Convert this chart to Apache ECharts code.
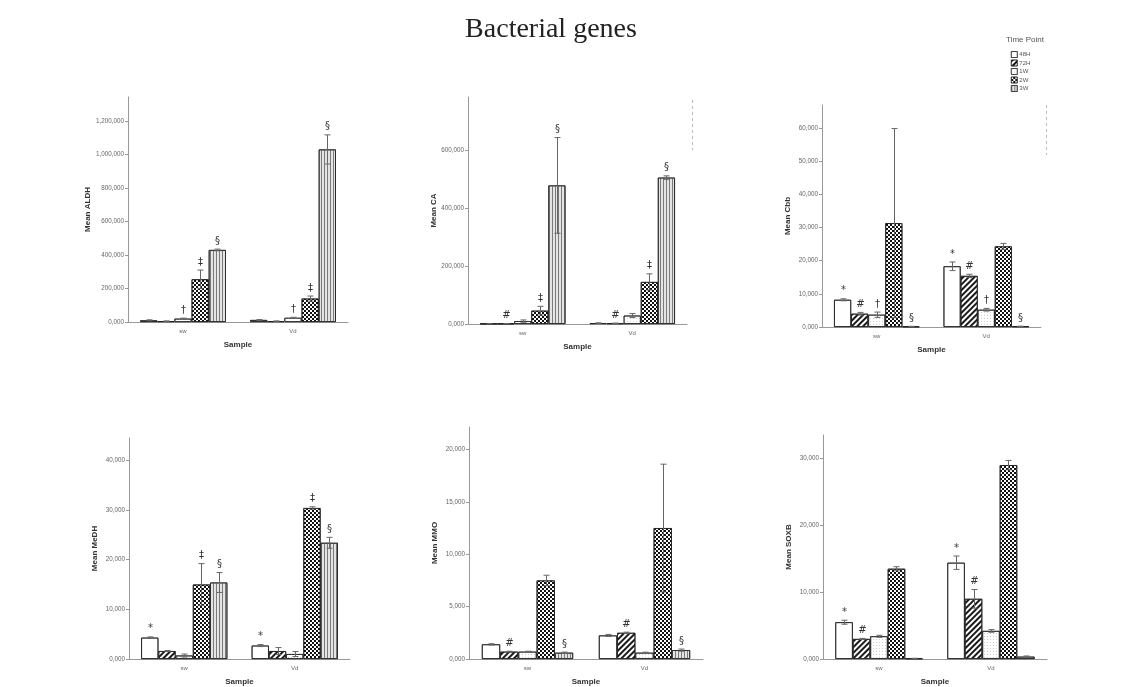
<!DOCTYPE html>
<html><head><meta charset="utf-8">
<script src="https://cdn.jsdelivr.net/npm/echarts@6/dist/echarts.min.js"></script>
<style>html,body{margin:0;padding:0;background:#fff}#c{width:1127px;height:687px}</style>
</head><body><div id="c"></div>
<script>
// ---------- data ----------
const timePoints = ['48H', '72H', '1W', '2W', '3W'];
const samples = ['sw', 'Vd'];

const aldhSw = [10000, 5000, 20000, 255000, 430000];
const aldhVd = [12000, 5000, 25000, 140000, 1030000];
const aldhSwErr = [3000, 1500, 3000, 55000, 5000];
const aldhVdErr = [2500, 1500, 3000, 15000, 87000];
const aldhSwMark = ['', '', '†', '‡', '§'];
const aldhVdMark = ['', '', '†', '‡', '§'];
const aldhTicks = [0, 200000, 400000, 600000, 800000, 1000000, 1200000];

const caSw = [1000, 1500, 10000, 46000, 478000];
const caVd = [3000, 2500, 29000, 145000, 505000];
const caSwErr = [300, 300, 4000, 15000, 165000];
const caVdErr = [1000, 800, 7000, 28000, 6000];
const caSwMark = ['', '#', '', '‡', '§'];
const caVdMark = ['', '#', '', '‡', '§'];
const caTicks = [0, 200000, 400000, 600000];

const cbbSw = [8200, 4000, 3700, 31300, 150];
const cbbVd = [18300, 15400, 5200, 24300, 200];
const cbbSwErr = [300, 400, 800, 28500, 50];
const cbbVdErr = [1300, 500, 400, 900, 50];
const cbbSwMark = ['*', '#', '†', '', '§'];
const cbbVdMark = ['*', '#', '†', '', '§'];
const cbbTicks = [0, 10000, 20000, 30000, 40000, 50000, 60000];

const medhSw = [4300, 1600, 700, 15000, 15400];
const medhVd = [2700, 1600, 1000, 30400, 23400];
const medhSwErr = [150, 100, 300, 4200, 2000];
const medhVdErr = [200, 700, 500, 250, 1100];
const medhSwMark = ['*', '', '', '‡', '§'];
const medhVdMark = ['*', '', '', '‡', '§'];
const medhTicks = [0, 10000, 20000, 30000, 40000];

const mmoSw = [1400, 700, 700, 7500, 600];
const mmoVd = [2250, 2500, 600, 12500, 850];
const mmoSwErr = [60, 40, 40, 500, 60];
const mmoVdErr = [100, 60, 50, 6100, 100];
const mmoSwMark = ['', '#', '', '', '§'];
const mmoVdMark = ['', '#', '', '', '§'];
const mmoTicks = [0, 5000, 10000, 15000, 20000];

const soxbSw = [5500, 3000, 3400, 13500, 80];
const soxbVd = [14400, 9000, 4200, 29000, 350];
const soxbSwErr = [300, 80, 150, 300, 30];
const soxbVdErr = [1000, 1400, 200, 700, 100];
const soxbSwMark = ['*', '#', '', '', ''];
const soxbVdMark = ['*', '#', '', '', ''];
const soxbTicks = [0, 10000, 20000, 30000];

// ---------- panels (data refs) ----------
const panels = [
  { name: 'Mean ALDH', sw: aldhSw, vd: aldhVd, swErr: aldhSwErr, vdErr: aldhVdErr, swMark: aldhSwMark, vdMark: aldhVdMark, ticks: aldhTicks },
  { name: 'Mean CA', sw: caSw, vd: caVd, swErr: caSwErr, vdErr: caVdErr, swMark: caSwMark, vdMark: caVdMark, ticks: caTicks },
  { name: 'Mean Cbb', sw: cbbSw, vd: cbbVd, swErr: cbbSwErr, vdErr: cbbVdErr, swMark: cbbSwMark, vdMark: cbbVdMark, ticks: cbbTicks },
  { name: 'Mean MeDH', sw: medhSw, vd: medhVd, swErr: medhSwErr, vdErr: medhVdErr, swMark: medhSwMark, vdMark: medhVdMark, ticks: medhTicks },
  { name: 'Mean MMO', sw: mmoSw, vd: mmoVd, swErr: mmoSwErr, vdErr: mmoVdErr, swMark: mmoSwMark, vdMark: mmoVdMark, ticks: mmoTicks },
  { name: 'Mean SOXB', sw: soxbSw, vd: soxbVd, swErr: soxbSwErr, vdErr: soxbVdErr, swMark: soxbSwMark, vdMark: soxbVdMark, ticks: soxbTicks }
];

// ---------- layout ----------
const layout = [
  { left: 128, top: 97, width: 220, height: 225, max: 1343000 },
  { left: 468, top: 97, width: 219, height: 227, max: 783000 },
  { left: 822, top: 105, width: 219, height: 222, max: 66900 },
  { left: 129, top: 438, width: 221, height: 226, max: 44500 },
  { left: 469, top: 427, width: 234, height: 237, max: 22150 },
  { left: 823, top: 435, width: 224, height: 229, max: 33500 }
];
const GAP = 0.22;
const FONT = 'Liberation Sans, Arial, sans-serif';

function dec(o) {
  return Object.assign({ symbol: 'rect', symbolSize: 1, symbolKeepAspect: true, rotation: 0, maxTileWidth: 512, maxTileHeight: 512, backgroundColor: null }, o);
}
const styles = [
  { color: '#ffffff', decal: dec({ symbol: 'none', dashArrayX: 5, dashArrayY: 5 }) },
  { color: '#ffffff', decal: dec({ dashArrayX: [1, 0], dashArrayY: [2, 2], rotation: -Math.PI / 4, color: '#1a1a1a' }) },
  { color: '#ffffff', decal: dec({ dashArrayX: [1, 2], dashArrayY: [1, 2], color: '#cccccc' }) },
  { color: '#ffffff', decal: dec({ dashArrayX: [[2, 2], [0, 2, 2, 0]], dashArrayY: [2, 0], color: '#111111' }) },
  { color: '#e4e4e4', decal: dec({ dashArrayX: [1, 2], dashArrayY: [1, 0], color: '#7a7a7a' }) }
];

function fmt(v) { return v === 0 ? '0,000' : v.toLocaleString('en-US'); }

const grids = [], xAxes = [], yAxes = [], series = [];
panels.forEach((p, gi) => {
  const L = layout[gi];
  grids.push({ left: L.left, top: L.top, width: L.width, height: L.height, containLabel: false });
  xAxes.push({
    type: 'category', gridIndex: gi, data: samples,
    name: 'Sample', nameLocation: 'middle', nameGap: 19,
    nameTextStyle: { fontFamily: FONT, fontSize: 8, fontWeight: 'bold', color: '#333' },
    axisLine: { lineStyle: { color: '#999', width: 1 } },
    axisTick: { show: false },
    axisLabel: { fontFamily: FONT, fontSize: 6, color: '#666', margin: 6 }
  });
  yAxes.push({
    type: 'value', gridIndex: gi, min: 0, max: L.max,
    name: p.name, nameLocation: 'middle', nameRotate: 90, nameGap: 30,
    nameTextStyle: { fontFamily: FONT, fontSize: 8, fontWeight: 'bold', color: '#333' },
    axisLine: { show: true, lineStyle: { color: '#999', width: 1 } },
    axisTick: { show: true, length: 3, lineStyle: { color: '#999' }, customValues: p.ticks },
    axisLabel: { fontFamily: FONT, fontSize: 6.3, color: '#666', margin: 4, customValues: p.ticks, formatter: fmt },
    splitLine: { show: false }
  });
  timePoints.forEach((t, si) => {
    series.push({
      type: 'bar', name: t, xAxisIndex: gi, yAxisIndex: gi,
      data: [p.sw[si], p.vd[si]],
      barGap: '0%', barCategoryGap: (GAP * 100) + '%',
      itemStyle: { color: styles[si].color, borderColor: '#222', borderWidth: 0.8, decal: styles[si].decal },
      emphasis: { disabled: true }, animation: false
    });
  });
  const items = [];
  [[p.sw, p.swErr, p.swMark], [p.vd, p.vdErr, p.vdMark]].forEach((grp, cat) => {
    grp[0].forEach((m, si) => items.push({ cat, si, mean: m, err: grp[1][si], mark: grp[2][si] }));
  });
  series.push({
    type: 'custom', xAxisIndex: gi, yAxisIndex: gi, silent: true, z: 5, animation: false,
    itemStyle: { decal: dec({ symbol: 'none', dashArrayX: 5, dashArrayY: 5 }) },
    data: items.map(it => [it.cat, it.mean]),
    encode: { x: 0, y: 1 },
    renderItem: function (params, api) {
      const it = items[params.dataIndex];
      const bw = api.size([1, 0])[0] * (1 - GAP) / 5;
      const base = api.coord([it.cat, 0]);
      const x = Math.round(base[0] + (it.si - 2) * bw) + 0.5;
      const top = api.coord([it.cat, it.mean + it.err])[1];
      const bot = api.coord([it.cat, it.mean - it.err])[1];
      const ch = [];
      const st = { stroke: '#666', lineWidth: 1 };
      if (it.err > 0) {
        ch.push({ type: 'line', shape: { x1: x, y1: top, x2: x, y2: bot }, style: st });
        ch.push({ type: 'line', shape: { x1: x - 3, y1: top, x2: x + 3, y2: top }, style: st });
        ch.push({ type: 'line', shape: { x1: x - 3, y1: bot, x2: x + 3, y2: bot }, style: st });
      }
      if (it.mark) {
        ch.push({ type: 'text', style: { text: it.mark, x: x, y: Math.min(top, api.coord([it.cat, it.mean])[1]) - 3, align: 'center', verticalAlign: 'bottom', fontSize: 10, fontFamily: 'DejaVu Sans, sans-serif', fill: '#333' } });
      }
      return { type: 'group', children: ch };
    }
  });
});

const chart = echarts.init(document.getElementById('c'), null, { renderer: 'canvas' });
chart.setOption({
  animation: false,
  backgroundColor: '#fff',
  aria: { enabled: true, decal: { show: true } },
  grid: grids, xAxis: xAxes, yAxis: yAxes, series: series,
  legend: {
    data: timePoints, orient: 'vertical', left: 1011, top: 51,
    itemWidth: 6, itemHeight: 6, itemGap: 1.5, padding: 0,
    icon: 'rect', selectedMode: false,
    itemStyle: { borderWidth: 0.6 },
    textStyle: { fontFamily: FONT, fontSize: 6, lineHeight: 7, color: '#555', padding: [0, 0, 0, -3] }
  },
  graphic: [
    { type: 'text', x: 551, y: 30, style: { text: 'Bacterial genes', font: '28px "Liberation Serif", "Times New Roman", serif', fill: '#222', align: 'center', verticalAlign: 'middle' } },
    { type: 'text', x: 1025, y: 40, style: { text: 'Time Point', font: '8px "Liberation Sans", Arial, sans-serif', fill: '#555', align: 'center', verticalAlign: 'middle' } },
    { type: 'line', shape: { x1: 692.5, y1: 100, x2: 692.5, y2: 150 }, style: { stroke: '#bbb', lineWidth: 1, lineDash: [3, 3] } },
    { type: 'line', shape: { x1: 1046.5, y1: 105, x2: 1046.5, y2: 155 }, style: { stroke: '#bbb', lineWidth: 1, lineDash: [3, 3] } }
  ]
});
</script></body></html>
